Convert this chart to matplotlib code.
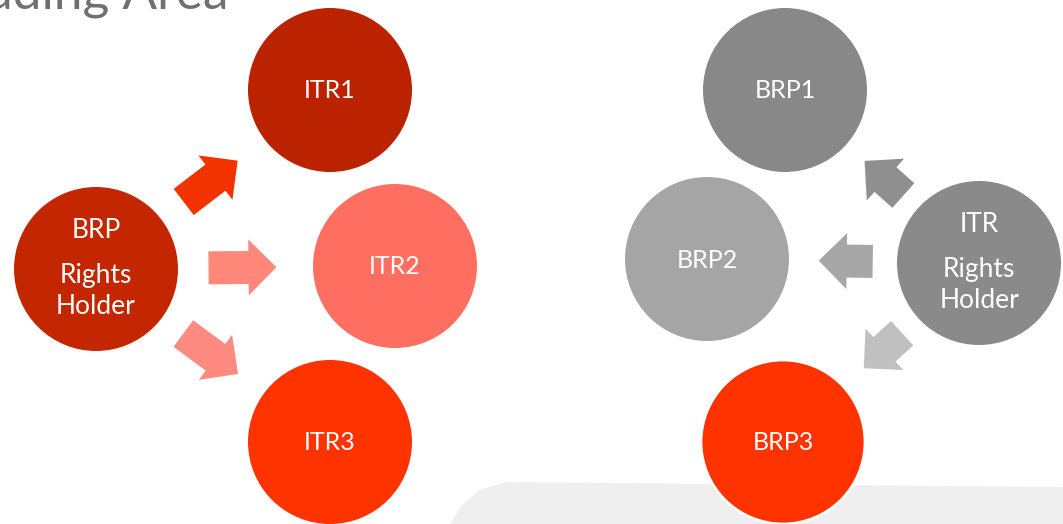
import numpy as np
import matplotlib
matplotlib.use("Agg")
import matplotlib.pyplot as plt
from matplotlib.patches import Circle, FancyArrow, Polygon

plt.rcParams['font.family'] = ['Lato', 'DejaVu Sans']

# nodes of the two diagrams (pixel layout, y downwards)
node_labels = ["BRP", "ITR1", "ITR2", "ITR3", "ITR", "BRP1", "BRP2", "BRP3"]
hub_lines = ["Rights", "Holder"]
hubs = [0, 4]
node_x = [96, 330, 395, 330, 979, 785, 707, 783]
node_y = [269, 90, 266, 442, 263, 90, 259, 442]
node_colors = ["#C42600", "#BB2200", "#FF6F61", "#FF3300",
               "#8A8A8A", "#888888", "#A5A5A5", "#FF3300"]
radius = 82

# arrows: from node, to node, colour, length
arrow_from = [0, 0, 0, 4, 4, 4]
arrow_to = [1, 2, 3, 5, 6, 7]
arrow_colors = ["#F23300", "#FF887A", "#FF8A7F", "#8F8F8F", "#A6A6A6", "#C0C0C0"]
arrow_len = [68, 68, 68, 52, 54, 52]

fig = plt.figure(figsize=(10.63, 5.24), dpi=100)
ax = fig.add_axes([0, 0, 1, 1])
ax.set_xlim(0, 1063)
ax.set_ylim(524, 0)
ax.set_aspect('equal')
ax.axis('off')

# light grey panel at bottom right
ax.add_patch(Polygon([(450, 524), (462, 505), (480, 490), (505, 482),
                      (1063, 487), (1063, 524)],
                     closed=True, facecolor="#EFEFEF", edgecolor='none', zorder=0))

# title cut off at top
ax.text(228, 8, "Trading Area", ha='right', va='baseline', fontsize=37,
        color="#707070", zorder=1)
# bullet text cut off at bottom
ax.text(60, 548, "It will be shared as a credit limit", ha='left', va='baseline',
        fontsize=24, color="#404040", fontweight='bold', zorder=1)

for i, (lab, x, y, c) in enumerate(zip(node_labels, node_x, node_y, node_colors)):
    ec = 'white' if lab == "BRP3" else 'none'
    ax.add_patch(Circle((x, y), radius, facecolor=c, edgecolor=ec, linewidth=2, zorder=3))
    if i in hubs:
        ax.text(x, y - 39, lab, ha='center', va='center', color='white',
                fontsize=19, zorder=4)
        ax.text(x, y + 6, hub_lines[0], ha='center', va='center', color='white',
                fontsize=19, zorder=4)
        ax.text(x, y + 38, hub_lines[1], ha='center', va='center', color='white',
                fontsize=19, zorder=4)
    else:
        ax.text(x, y + 1, lab, ha='center', va='center', color='white',
                fontsize=18, zorder=4)

for a, b, c, L in zip(arrow_from, arrow_to, arrow_colors, arrow_len):
    x0, y0 = node_x[a], node_y[a]
    x1, y1 = node_x[b], node_y[b]
    d = np.array([x1 - x0, y1 - y0], dtype=float)
    u = d / np.linalg.norm(d)
    mid = np.array([x0, y0]) + 0.49 * d
    start = mid - u * L / 2
    ax.add_patch(FancyArrow(start[0], start[1], u[0] * L, u[1] * L, width=33,
                            head_width=56, head_length=28, length_includes_head=True,
                            facecolor=c, edgecolor='none', zorder=2))

fig.savefig("out.png", dpi=100, facecolor='white')
